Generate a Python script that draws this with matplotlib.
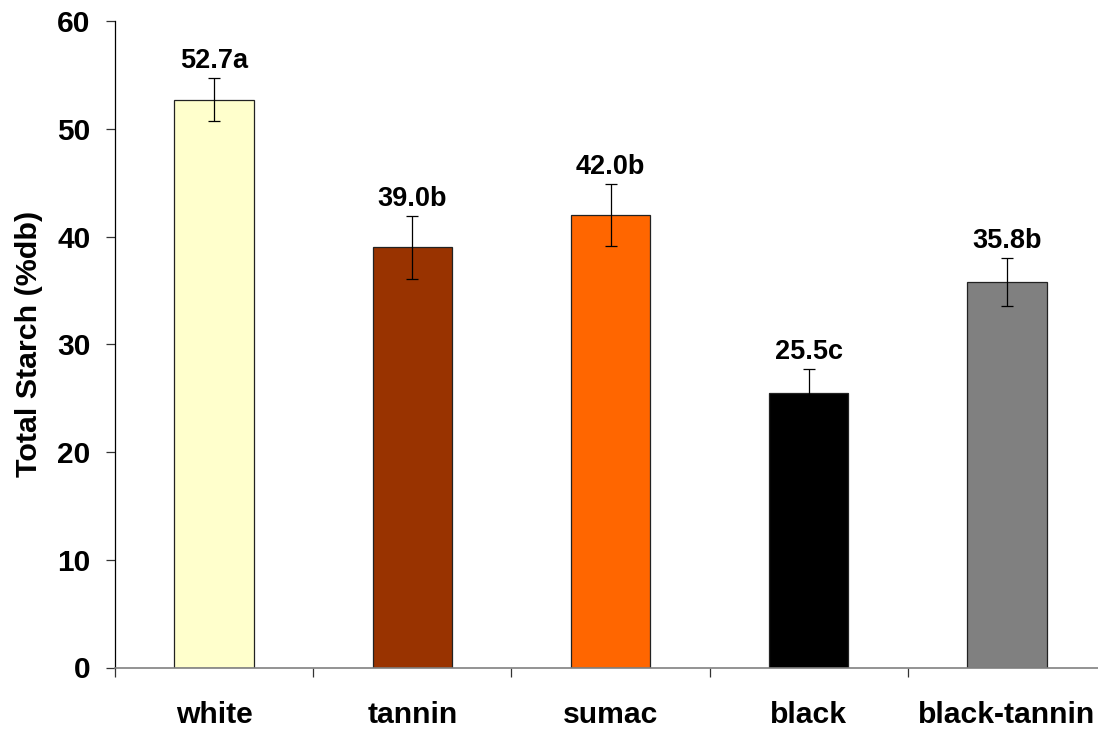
import matplotlib
matplotlib.use("Agg")
import matplotlib.pyplot as plt
from matplotlib.ticker import FixedLocator, NullFormatter, FixedFormatter

# Sorghum types and their total starch content (% dry basis)
categories = ["white", "tannin", "sumac", "black", "black-tannin"]
starch = [52.7, 39.0, 42.0, 25.5, 35.8]
errors = [2.0, 2.9, 2.9, 2.2, 2.2]
letters = ["a", "b", "b", "c", "b"]
bar_colors = ["#FFFFCC", "#993300", "#FF6600", "#000000", "#808080"]
y_ticks = [0, 10, 20, 30, 40, 50, 60]

plt.rcParams["font.family"] = ["Liberation Sans", "DejaVu Sans"]
plt.rcParams["font.weight"] = "bold"

fig = plt.figure(figsize=(10.98, 7.30), dpi=100)
ax = fig.add_axes([115 / 1098, 62.5 / 730, 991 / 1098, 646.2 / 730])

x = list(range(len(categories)))
ax.bar(x, starch, width=0.40, color=bar_colors, edgecolor="#222222",
       linewidth=0.9, zorder=2)
ax.errorbar(x, starch, yerr=errors, fmt="none", ecolor="black",
            elinewidth=0.9, capsize=4, capthick=0.9, zorder=3)

# Value labels with significance letters above each error bar
for xi, v, e, let in zip(x, starch, errors, letters):
    ax.annotate(f"{v:.1f}{let}", xy=(xi, v + e), xytext=(0, 7.5),
                textcoords="offset points", ha="center", va="baseline",
                fontsize=19.5, fontweight="bold")

ax.set_xlim(-0.5, 4.5)
ax.set_ylim(0, 60)
ax.set_yticks(y_ticks)
ax.tick_params(axis="y", direction="out", length=6.5, width=0.9,
               color="#333333", pad=11, labelsize=21.5)
for lab in ax.get_yticklabels():
    lab.set_fontweight("bold")

# Category boundaries carry the tick marks; labels sit at bar centres
ax.xaxis.set_major_locator(FixedLocator([-0.5, 0.5, 1.5, 2.5, 3.5, 4.5]))
ax.xaxis.set_major_formatter(NullFormatter())
ax.xaxis.set_minor_locator(FixedLocator(x))
ax.xaxis.set_minor_formatter(FixedFormatter(categories))
ax.tick_params(axis="x", which="major", direction="out", length=6.5,
               width=0.9, color="#333333")
ax.tick_params(axis="x", which="minor", length=0, pad=24, labelsize=21.7)
for lab in ax.get_xticklabels(minor=True):
    lab.set_fontweight("bold")

ax.spines["top"].set_visible(False)
ax.spines["right"].set_visible(False)
ax.spines["left"].set_color("black")
ax.spines["left"].set_linewidth(0.9)
ax.spines["bottom"].set_color("#808080")
ax.spines["bottom"].set_linewidth(1.2)

fig.text(29 / 1098, 1 - 344 / 730, "Total Starch (%db)", rotation=90,
         ha="center", va="center", fontsize=21.9, fontweight="bold")

fig.savefig("out.png", dpi=100)
